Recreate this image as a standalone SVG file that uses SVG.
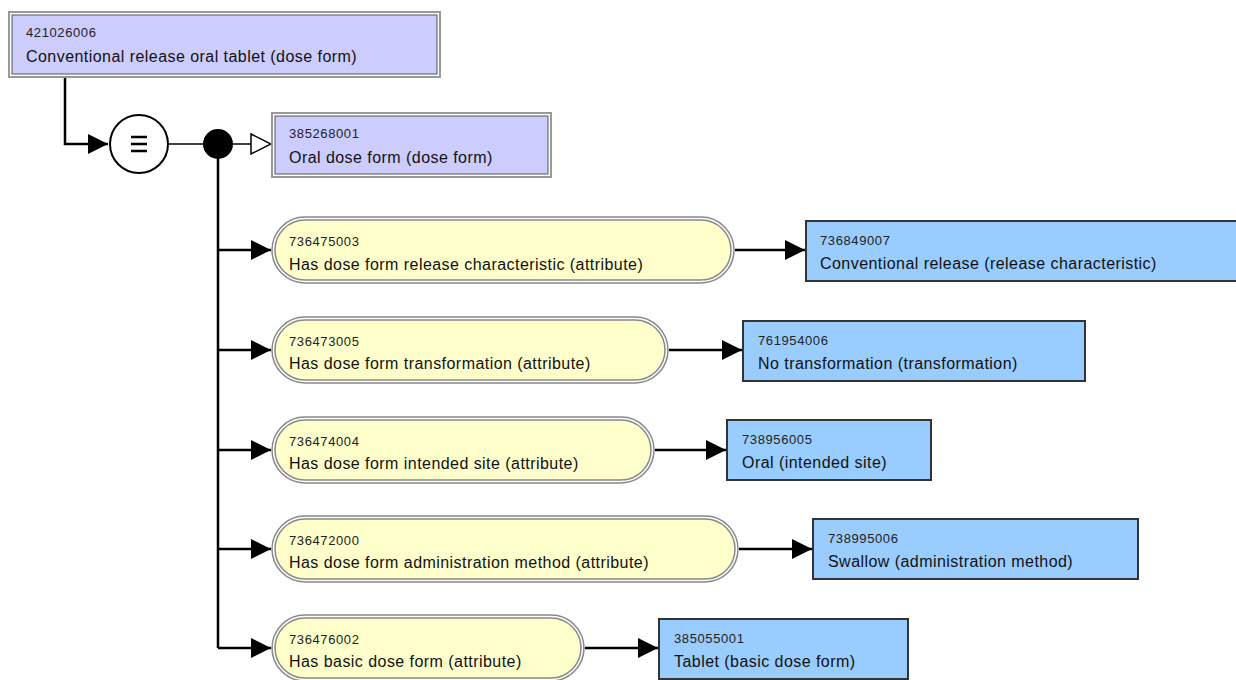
<svg xmlns="http://www.w3.org/2000/svg" width="1236" height="680" viewBox="0 0 1236 680">
<style>
.id{font-family:"Liberation Sans",Arial,sans-serif;font-size:13px;letter-spacing:0.6px;fill:#222}
.lb{font-family:"Liberation Sans",Arial,sans-serif;font-size:16px;letter-spacing:0.45px;fill:#111}
.po{fill:none;stroke:#999;stroke-width:2}
.pi{fill:#ccccff;stroke:#555;stroke-width:1}
.ao{fill:none;stroke:#888;stroke-width:1.5}
.ai{fill:#ffffcc;stroke:#888;stroke-width:1.5}
.vb{fill:#99ccff;stroke:#333;stroke-width:2}
.ln{fill:none;stroke:#000;stroke-width:2.5}
</style>
<defs>
<marker id="ah" viewBox="0 0 10 10" refX="10" refY="5" markerWidth="20" markerHeight="20" markerUnits="userSpaceOnUse" orient="auto"><path d="M0,0 L10,5 L0,10 Z" fill="#000"/></marker>
<marker id="oh" viewBox="0 0 22 22" refX="21" refY="11" markerWidth="22" markerHeight="22" markerUnits="userSpaceOnUse" orient="auto"><path d="M1,1 L21,11 L1,21 Z" fill="#fff" stroke="#000" stroke-width="1.5"/></marker>
</defs>
<rect width="1236" height="680" fill="#fff"/>
<g id="connectors">
<path class="ln" d="M65,77 V144 H108" marker-end="url(#ah)"/>
<path d="M168,144 H204" stroke="#000" stroke-width="1.5"/>
<path d="M232,144 H271" stroke="#000" stroke-width="1.5" marker-end="url(#oh)"/>
<path class="ln" d="M218,150 V648"/>
<path class="ln" d="M218,250 H271" marker-end="url(#ah)"/>
<path class="ln" d="M218,350 H271" marker-end="url(#ah)"/>
<path class="ln" d="M218,450 H271" marker-end="url(#ah)"/>
<path class="ln" d="M218,549 H271" marker-end="url(#ah)"/>
<path class="ln" d="M218,648 H271" marker-end="url(#ah)"/>
<path class="ln" d="M735,250 H805" marker-end="url(#ah)"/>
<path class="ln" d="M669,350 H742" marker-end="url(#ah)"/>
<path class="ln" d="M655,450 H726" marker-end="url(#ah)"/>
<path class="ln" d="M739,549 H812" marker-end="url(#ah)"/>
<path class="ln" d="M585,648 H658" marker-end="url(#ah)"/>
</g>
<g id="n421026006">
<rect class="po" x="9" y="12" width="431" height="65"/>
<rect class="pi" x="12" y="15" width="425" height="59"/>
<text class="id" x="26" y="37">421026006</text>
<text class="lb" x="26" y="62">Conventional release oral tablet (dose form)</text>
</g>
<g id="equiv">
<circle cx="139" cy="144" r="29" fill="#fff" stroke="#000" stroke-width="2"/>
<path d="M131,137 H147 M131,144 H147 M131,151 H147" stroke="#000" stroke-width="2.5"/>
</g>
<g id="conj"><circle cx="218" cy="144" r="15" fill="#000"/></g>
<g id="n385268001">
<rect class="po" x="272" y="113" width="279" height="64"/>
<rect class="pi" x="275" y="116" width="273" height="58"/>
<text class="id" x="289" y="138">385268001</text>
<text class="lb" x="289" y="163">Oral dose form (dose form)</text>
</g>
<g id="a736475003">
<rect class="ao" x="272" y="217" width="462" height="66" rx="33"/>
<rect class="ai" x="275" y="220" width="456" height="60" rx="30"/>
<text class="id" x="289" y="246">736475003</text>
<text class="lb" x="289" y="270">Has dose form release characteristic (attribute)</text>
</g>
<g id="v736849007">
<rect class="vb" x="806" y="221" width="440" height="60"/>
<text class="id" x="820" y="245">736849007</text>
<text class="lb" x="820" y="269">Conventional release (release characteristic)</text>
</g>
<g id="a736473005">
<rect class="ao" x="272" y="317" width="396" height="66" rx="33"/>
<rect class="ai" x="275" y="320" width="390" height="60" rx="30"/>
<text class="id" x="289" y="346">736473005</text>
<text class="lb" x="289" y="369">Has dose form transformation (attribute)</text>
</g>
<g id="v761954006">
<rect class="vb" x="743" y="321" width="342" height="60"/>
<text class="id" x="758" y="345">761954006</text>
<text class="lb" x="758" y="369">No transformation (transformation)</text>
</g>
<g id="a736474004">
<rect class="ao" x="272" y="417" width="382" height="66" rx="33"/>
<rect class="ai" x="275" y="420" width="376" height="60" rx="30"/>
<text class="id" x="289" y="446">736474004</text>
<text class="lb" x="289" y="469">Has dose form intended site (attribute)</text>
</g>
<g id="v738956005">
<rect class="vb" x="727" y="420" width="204" height="60"/>
<text class="id" x="742" y="444">738956005</text>
<text class="lb" x="742" y="468">Oral (intended site)</text>
</g>
<g id="a736472000">
<rect class="ao" x="272" y="516" width="466" height="66" rx="33"/>
<rect class="ai" x="275" y="519" width="460" height="60" rx="30"/>
<text class="id" x="289" y="545">736472000</text>
<text class="lb" x="289" y="568">Has dose form administration method (attribute)</text>
</g>
<g id="v738995006">
<rect class="vb" x="813" y="519" width="325" height="60"/>
<text class="id" x="828" y="543">738995006</text>
<text class="lb" x="828" y="567">Swallow (administration method)</text>
</g>
<g id="a736476002">
<rect class="ao" x="272" y="615" width="312" height="66" rx="33"/>
<rect class="ai" x="275" y="618" width="306" height="60" rx="30"/>
<text class="id" x="289" y="644">736476002</text>
<text class="lb" x="289" y="667">Has basic dose form (attribute)</text>
</g>
<g id="v385055001">
<rect class="vb" x="659" y="619" width="249" height="60"/>
<text class="id" x="674" y="643">385055001</text>
<text class="lb" x="674" y="667">Tablet (basic dose form)</text>
</g>
</svg>
